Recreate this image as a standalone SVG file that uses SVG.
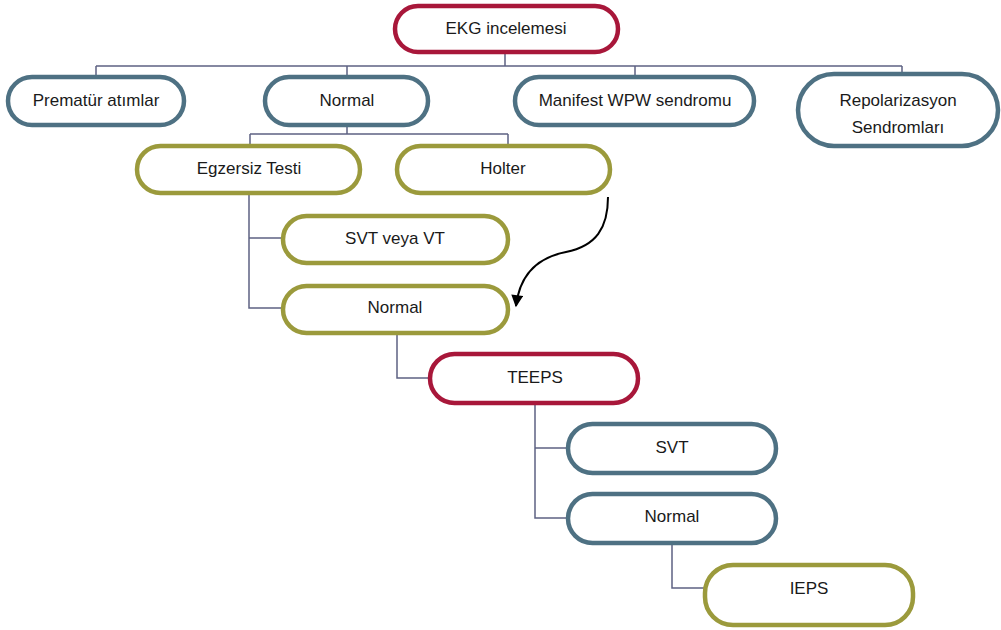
<svg xmlns="http://www.w3.org/2000/svg" width="1001" height="630" viewBox="0 0 1001 630">
<style>
.n rect{fill:#fff;stroke-width:4.5}
.r rect{stroke:#A8173A}
.b rect{stroke:#4E7183}
.g rect{stroke:#9B9A3C}
text{font-family:"Liberation Sans",Arial,sans-serif;font-size:17px;fill:#1a1a1a;text-anchor:middle}
.c path{fill:none;stroke:#5D6283;stroke-width:1.5}
</style>
<defs>
<marker id="ah" viewBox="0 0 10 10" refX="9" refY="5" markerWidth="13" markerHeight="12" orient="auto" markerUnits="userSpaceOnUse">
<path d="M0,0 L10,5 L0,10 z" fill="#000"/>
</marker>
</defs>
<g class="c">
<path d="M505 52 V66 M96 66 H902 M96 66 V76 M347 66 V76 M635 66 V76 M902 66 V73"/>
<path d="M347 126 V134 M250 134 H508 M250 134 V145 M508 134 V145"/>
<path d="M249 193 V308 H283 M249 238 H283"/>
<path d="M397 333 V378 H430"/>
<path d="M535 403 V518 H568 M535 448 H568"/>
<path d="M672 543 V588 H705"/>
<path d="M608 197 C608 228 596 246 566 252 C540 257 520 272 516 306" style="stroke:#000;stroke-width:2" marker-end="url(#ah)"/>
</g>
<g id="n-ekg" class="n r"><rect x="395" y="6" width="223" height="46" rx="23"/><text x="506" y="34">EKG incelemesi</text></g>
<g id="n-premat" class="n b"><rect x="8" y="77" width="176" height="48" rx="24"/><text x="96" y="106">Prematür atımlar</text></g>
<g id="n-normal1" class="n b"><rect x="265" y="77" width="163" height="48" rx="24"/><text x="347" y="106">Normal</text></g>
<g id="n-wpw" class="n b"><rect x="515" y="77" width="239" height="48" rx="24"/><text x="635" y="106">Manifest WPW sendromu</text></g>
<g id="n-repol" class="n b"><rect x="798" y="74" width="200" height="72" rx="36"/><text x="898" y="106">Repolarizasyon</text><text x="898" y="133">Sendromları</text></g>
<g id="n-egz" class="n g"><rect x="137" y="146" width="223" height="47" rx="23.5"/><text x="249" y="174">Egzersiz Testi</text></g>
<g id="n-holter" class="n g"><rect x="397" y="146" width="213" height="47" rx="23.5"/><text x="503" y="174">Holter</text></g>
<g id="n-svtvt" class="n g"><rect x="283" y="216" width="225" height="47" rx="23.5"/><text x="395" y="244">SVT veya VT</text></g>
<g id="n-normal2" class="n g"><rect x="283" y="286" width="225" height="47" rx="23.5"/><text x="395" y="313">Normal</text></g>
<g id="n-teeps" class="n r"><rect x="430" y="354" width="208" height="49" rx="24.5"/><text x="535" y="383">TEEPS</text></g>
<g id="n-svt" class="n b"><rect x="568" y="424" width="208" height="49" rx="24.5"/><text x="672" y="453">SVT</text></g>
<g id="n-normal3" class="n b"><rect x="568" y="494" width="208" height="49" rx="24.5"/><text x="672" y="522">Normal</text></g>
<g id="n-ieps" class="n g"><rect x="705" y="565" width="208" height="60" rx="28"/><text x="809" y="594">IEPS</text></g>
</svg>
